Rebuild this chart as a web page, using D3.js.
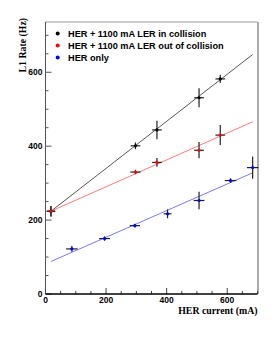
<!DOCTYPE html>
<html>
<head>
<meta charset="utf-8">
<script src="https://cdn.jsdelivr.net/npm/d3@7"></script>
<style>
  body { margin: 0; background: #fff; }
  .tick-label { font-family: 'Liberation Sans', Arial, sans-serif; font-weight: bold; font-size: 8.5px; fill: #000; }
  .axis-title { font-family: 'Liberation Serif', 'Times New Roman', serif; font-weight: bold; font-size: 9.8px; fill: #000; }
  .legend { font-family: 'Liberation Sans', Arial, sans-serif; font-weight: bold; font-size: 9.2px; fill: #000; }
</style>
</head>
<body>
<div class="wrapper"></div>
<script>
// Data (x in mA, y in Hz, errors symmetric)
const collX    = [18, 297, 368, 507, 577];
const collY    = [224, 401, 444, 531, 582];
const collXErr = [14, 16, 16, 16, 16];
const collYErr = [14, 9, 25, 26, 11];

const outX    = [18, 297, 368, 507, 577];
const outY    = [224, 330, 356, 389, 430];
const outXErr = [14, 17, 16, 16, 16];
const outYErr = [14, 6, 12, 22, 27];

const herX    = [87, 195, 295, 403, 507, 611, 684];
const herY    = [122, 150, 185, 217, 253, 307, 342];
const herXErr = [19, 18, 17, 13, 18, 19, 19];
const herYErr = [8, 6, 5, 12, 24, 6, 30];

// straight-line fits: [xStart, xEnd], [yStart, yEnd]
const fitX = [18, 684];
const collFitY = [224, 648];
const outFitY = [224, 466];
const herFitY = [88, 328];

const legendLabels = ['HER + 1100 mA LER in collision', 'HER + 1100 mA LER out of collision', 'HER only'];
const xTicks = [0, 200, 400, 600];
const yTicks = [0, 200, 400, 600];

const WIDTH = 273, HEIGHT = 348;
const PLOT = { left: 45.5, right: 257.5, top: 22, bottom: 294 };

const xScale = d3.scaleLinear().domain([0, 700]).range([PLOT.left, PLOT.right]);
const yScale = d3.scaleLinear().domain([0, 736]).range([PLOT.bottom, PLOT.top]);

const svg = d3.select('.wrapper').append('svg')
  .attr('width', WIDTH)
  .attr('height', HEIGHT);

// frame
svg.append('line')
  .attr('x1', PLOT.left).attr('x2', PLOT.right)
  .attr('y1', PLOT.top).attr('y2', PLOT.top)
  .attr('stroke', '#999').attr('stroke-width', 1);
svg.append('line')
  .attr('x1', PLOT.right + 0.5).attr('x2', PLOT.right + 0.5)
  .attr('y1', PLOT.top).attr('y2', PLOT.bottom)
  .attr('stroke', '#aaa').attr('stroke-width', 2);

// y axis: ticks inside the frame
const yAxisG = svg.append('g');
yAxisG.append('line')
  .attr('x1', PLOT.left).attr('x2', PLOT.left)
  .attr('y1', PLOT.top).attr('y2', PLOT.bottom)
  .attr('stroke', '#555').attr('stroke-width', 1);
const yMinor = d3.range(0, 736, 50);
yAxisG.selectAll('.ytick')
  .data(yMinor)
  .enter()
  .append('line')
  .attr('x1', PLOT.left)
  .attr('x2', d => PLOT.left + (d % 200 === 0 ? 6 : 3))
  .attr('y1', d => yScale(d))
  .attr('y2', d => yScale(d))
  .attr('stroke', '#555').attr('stroke-width', 1);
yAxisG.selectAll('.ylabel')
  .data(yTicks)
  .enter()
  .append('text')
  .attr('class', 'tick-label')
  .attr('x', PLOT.left - 3)
  .attr('y', d => yScale(d) + 3)
  .attr('text-anchor', 'end')
  .text(d => d);

// x axis: ticks inside the frame
const xAxisG = svg.append('g');
const xMinor = d3.range(0, 701, 50);
xAxisG.selectAll('.xtick')
  .data(xMinor)
  .enter()
  .append('line')
  .attr('x1', d => xScale(d))
  .attr('x2', d => xScale(d))
  .attr('y1', PLOT.bottom)
  .attr('y2', d => PLOT.bottom - (d % 200 === 0 ? 6 : 3))
  .attr('stroke', '#444').attr('stroke-width', 1);
xAxisG.append('line')
  .attr('x1', PLOT.left).attr('x2', PLOT.right)
  .attr('y1', PLOT.bottom).attr('y2', PLOT.bottom)
  .attr('stroke', '#000').attr('stroke-width', 1.3);
xAxisG.selectAll('.xlabel')
  .data(xTicks)
  .enter()
  .append('text')
  .attr('class', 'tick-label')
  .attr('x', d => xScale(d))
  .attr('y', PLOT.bottom + 8.7)
  .attr('text-anchor', 'middle')
  .text(d => d);

// axis titles
svg.append('text')
  .attr('class', 'axis-title')
  .attr('x', PLOT.right)
  .attr('y', PLOT.bottom + 19.5)
  .attr('text-anchor', 'end')
  .text('HER current (mA)');
svg.append('text')
  .attr('class', 'axis-title')
  .attr('transform', `translate(26, ${PLOT.top - 4}) rotate(-90)`)
  .attr('text-anchor', 'end')
  .text('L1 Rate (Hz)');

// fits
const line = d3.line().x(d => xScale(d[0])).y(d => yScale(d[1]));
[[collFitY, '#444'], [outFitY, '#ff6a6a'], [herFitY, '#6a6aff']].forEach(([fy, col]) => {
  svg.append('path')
    .datum(fitX.map((x, i) => [x, fy[i]]))
    .attr('d', line)
    .attr('fill', 'none')
    .attr('stroke', col)
    .attr('stroke-width', 0.9);
});

// points with error bars
function drawSeries(xs, ys, xe, ye, color) {
  const g = svg.append('g');
  const pts = xs.map((x, i) => ({ x, y: ys[i], xe: xe[i], ye: ye[i] }));
  g.selectAll('.xe').data(pts).enter().append('line')
    .attr('x1', d => xScale(d.x - d.xe)).attr('x2', d => xScale(d.x + d.xe))
    .attr('y1', d => yScale(d.y)).attr('y2', d => yScale(d.y))
    .attr('stroke', '#222').attr('stroke-width', 1.2);
  g.selectAll('.ye').data(pts).enter().append('line')
    .attr('x1', d => xScale(d.x)).attr('x2', d => xScale(d.x))
    .attr('y1', d => yScale(d.y - d.ye)).attr('y2', d => yScale(d.y + d.ye))
    .attr('stroke', '#222').attr('stroke-width', 1.2);
  g.selectAll('circle').data(pts).enter().append('circle')
    .attr('cx', d => xScale(d.x)).attr('cy', d => yScale(d.y))
    .attr('r', 1.6)
    .attr('fill', color);
}
drawSeries(herX, herY, herXErr, herYErr, '#0000ff');
drawSeries(collX, collY, collXErr, collYErr, '#000');
drawSeries(outX, outY, outXErr, outYErr, '#ff0000');

// legend
const legendColors = ['#000', '#ff0000', '#0000ff'];
const legend = svg.append('g');
legendLabels.forEach((label, i) => {
  legend.append('circle')
    .attr('cx', 57.7).attr('cy', 33.5 + i * 12)
    .attr('r', 2)
    .attr('fill', legendColors[i]);
  legend.append('text')
    .attr('class', 'legend')
    .attr('x', 68).attr('y', 36.8 + i * 12)
    .text(label);
});
</script>
</body>
</html>
